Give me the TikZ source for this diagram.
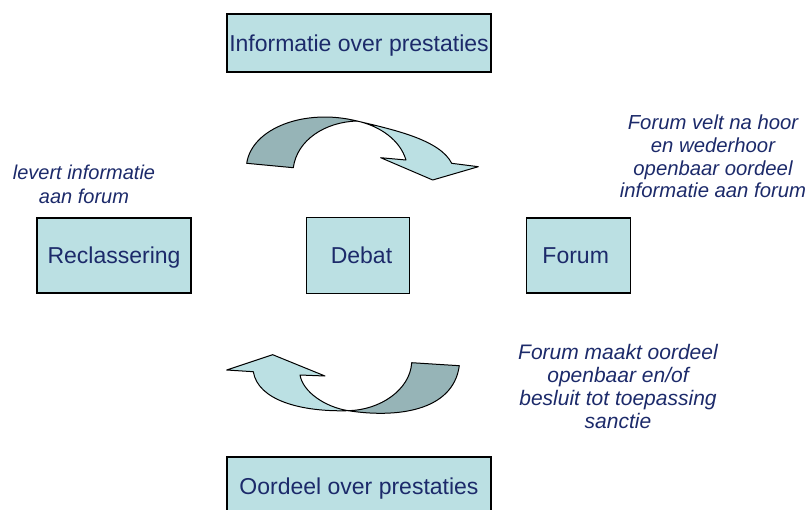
\documentclass[tikz,border=0pt]{standalone}
\usepackage{fontspec}
\setmainfont{Liberation Sans}
\definecolor{boxfill}{RGB}{187,224,227}
\definecolor{darkfill}{RGB}{150,180,183}
\definecolor{navy}{RGB}{28,42,106}
\begin{document}
\begin{tikzpicture}[x=1pt,y=-1pt,
  box/.style={draw=black, line width=1.2pt, fill=boxfill, inner sep=0pt,
    text=navy, font=\fontsize{23}{27}\selectfont, text height=16.8pt, text depth=0pt},
  note/.style={text=navy, align=center, inner sep=0pt},
  ribbon/.style={draw=black, line width=1pt, line join=round}]
\useasboundingbox (0,0) rectangle (809,509);

% boxes
\node[box, minimum width=264pt, minimum height=58pt] (info) at (359,43) {Informatie over prestaties};
\node[box, minimum width=154pt, minimum height=75pt] (recl) at (114,255.5) {Reclassering};
\node[box, minimum width=102.6pt, minimum height=75.6pt] (debat) at (358,255.5) {\hspace*{7pt}Debat};
\node[box, minimum width=104pt, minimum height=75pt] (forum) at (578.7,255.5) {Forum\hspace*{6pt}};
\node[box, minimum width=264pt, minimum height=58pt] (oordeel) at (359,486) {Oordeel over prestaties};

% notes
\node[note, font=\fontsize{20}{24}\selectfont\itshape] (n1) at (84,184.5) {levert informatie\\aan forum};
\node[note, font=\fontsize{20.3}{22.7}\selectfont\itshape] (n2) at (713,156.5) {Forum velt na hoor\\en wederhoor\\openbaar oordeel\\informatie aan forum};
\node[note, font=\fontsize{21}{22.7}\selectfont\itshape] (n3) at (618,386.5) {Forum maakt oordeel\\openbaar en/of\\besluit tot toepassing\\sanctie};

% top curved arrow
\coordinate (tc) at (357,121);
\filldraw[ribbon, fill=darkfill] (246.7,163.3) .. controls (252,128) and (305,108) .. (tc)
  .. controls (325,122) and (297,140) .. (293.3,167.7) -- cycle;
\filldraw[ribbon, fill=boxfill] (tc) .. controls (395,130) and (440,140) .. (451.7,163.3)
  -- (478.3,166.7) -- (432.7,180) -- (380.7,157.7) -- (406,160)
  .. controls (400,140) and (380,126) .. (tc) -- cycle;

% bottom curved arrow
\coordinate (bc) at (348.3,410.7);
\filldraw[ribbon, fill=darkfill] (411.7,362.7) -- (459.3,365.7)
  .. controls (453,412) and (395,418) .. (bc)
  .. controls (380,410) and (410,390) .. (411.7,362.7) -- cycle;
\filldraw[ribbon, fill=boxfill] (bc) .. controls (300,412) and (258,400) .. (253.3,371.7)
  -- (226.7,370) -- (272.7,354.7) -- (325,376) -- (300,375)
  .. controls (303,392) and (325,407) .. (bc) -- cycle;
\end{tikzpicture}
\end{document}
